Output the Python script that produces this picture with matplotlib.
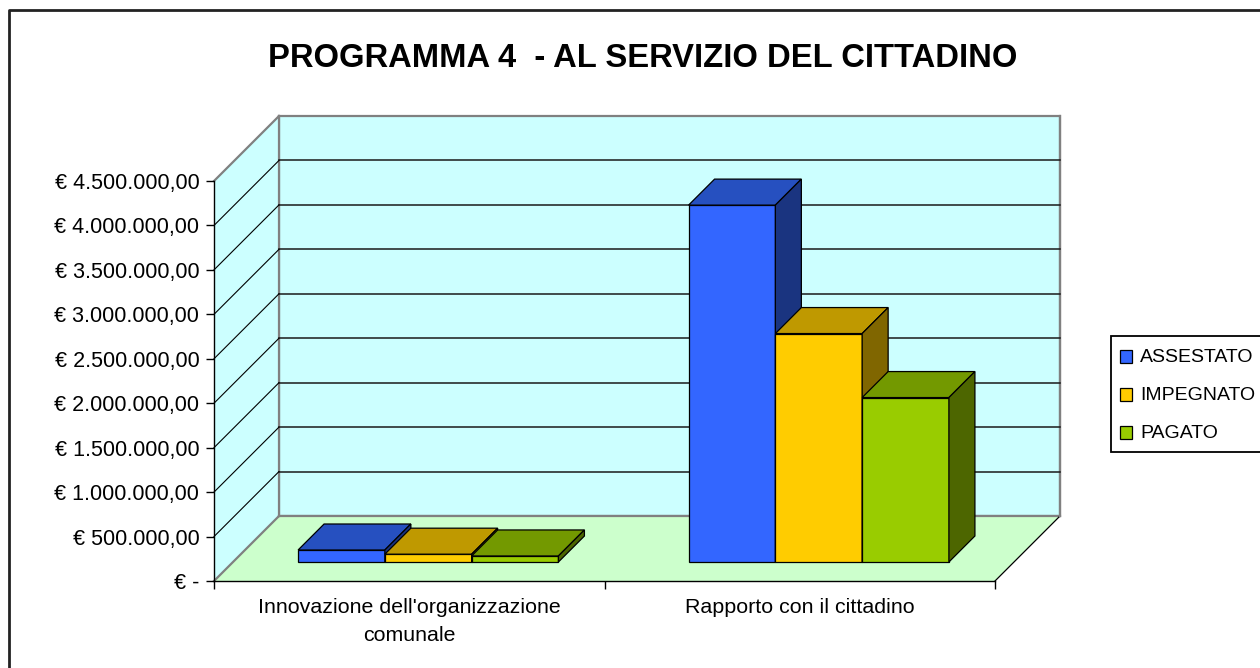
import matplotlib
matplotlib.use('Agg')
import matplotlib.pyplot as plt
from matplotlib.patches import Polygon, Rectangle
from matplotlib.lines import Line2D
from matplotlib.transforms import IdentityTransform

plt.rcParams['font.family'] = ['Liberation Sans', 'DejaVu Sans']

# ---------------- data ----------------
title = "PROGRAMMA 4  - AL SERVIZIO DEL CITTADINO"
categories = ["Innovazione dell'organizzazione\ncomunale", "Rapporto con il cittadino"]
series_names = ["ASSESTATO", "IMPEGNATO", "PAGATO"]
assestato = [135000, 4015000]
impegnato = [88000, 2570000]
pagato = [68000, 1850000]
yticks = [0, 500000, 1000000, 1500000, 2000000, 2500000, 3000000, 3500000, 4000000, 4500000]
ytick_labels = ["€ -", "€ 500.000,00", "€ 1.000.000,00", "€ 1.500.000,00", "€ 2.000.000,00",
                "€ 2.500.000,00", "€ 3.000.000,00", "€ 3.500.000,00", "€ 4.000.000,00",
                "€ 4.500.000,00"]

# ---------------- styles ----------------
front_colors = ["#3366FF", "#FFCC00", "#99CC00"]
top_colors = ["#2650C0", "#BF9900", "#739900"]
side_colors = ["#1A3480", "#806600", "#4D6600"]
wall_color = "#CCFFFF"
floor_color = "#CCFFCC"
edge_gray = "#808080"

W, H = 1260, 668
fig = plt.figure(figsize=(W / 100, H / 100), dpi=100)
fig.patch.set_facecolor('white')

ax_left, ax_right, ax_top, ax_bottom = 214, 995, 181, 581
ax = fig.add_axes([ax_left / W, (H - ax_bottom) / H, (ax_right - ax_left) / W, (ax_bottom - ax_top) / H])
ax.set_xlim(0, len(categories))
ax.set_ylim(0, yticks[-1])
ax.patch.set_alpha(0)

DEPTH = 65          # wall depth in pixels
BAR_D0, BAR_D1 = 19, 45   # bar depth range in pixels
IDT = IdentityTransform()


def P(x, v, d):
    px, py = ax.transData.transform((x, v))
    return (px + d, py + d)


def poly(pts, fc, ec='none', lw=0.0, z=1):
    p = Polygon(pts, closed=True, facecolor=fc, edgecolor=ec, linewidth=lw,
                transform=IDT, clip_on=False, zorder=z, joinstyle='miter')
    ax.add_patch(p)


def line(p0, p1, color, lw, z=1.5):
    l = Line2D([p0[0], p1[0]], [p0[1], p1[1]], color=color, linewidth=lw,
               transform=IDT, clip_on=False, zorder=z)
    ax.add_line(l)


xmax = len(categories)
vmax = yticks[-1]

# back wall
poly([P(0, 0, DEPTH), P(xmax, 0, DEPTH), P(xmax, vmax, DEPTH), P(0, vmax, DEPTH)],
     wall_color, edge_gray, 1.6, z=1)
# side wall
poly([P(0, 0, 0), P(0, vmax, 0), P(0, vmax, DEPTH), P(0, 0, DEPTH)],
     wall_color, 'none', 0, z=1)
line(P(0, vmax, 0), P(0, vmax, DEPTH), edge_gray, 1.6, z=1.2)
line(P(0, 0, DEPTH), P(0, vmax, DEPTH), edge_gray, 1.6, z=1.2)
# floor
poly([P(0, 0, 0), P(xmax, 0, 0), P(xmax, 0, DEPTH), P(0, 0, DEPTH)],
     floor_color, 'none', 0, z=1.1)
line(P(0, 0, 0), P(0, 0, DEPTH), edge_gray, 1.6, z=1.2)
line(P(0, 0, DEPTH), P(xmax, 0, DEPTH), edge_gray, 1.6, z=1.2)
line(P(xmax, 0, 0), P(xmax, 0, DEPTH), '#000000', 0.9, z=1.2)
line(P(xmax, 0, DEPTH), P(xmax, vmax, DEPTH), edge_gray, 1.6, z=1.2)

# gridlines
for v in yticks[1:-1]:
    line(P(0, v, DEPTH), P(xmax, v, DEPTH), '#1a1a1a', 1.1, z=1.3)
    line(P(0, v, 0), P(0, v, DEPTH), '#000000', 0.8, z=1.3)

# bars
series = [assestato, impegnato, pagato]
n = len(series)
bw = 1.0 / (n + 1.5)
for ci in range(len(categories)):
    for si, vals in enumerate(series):
        v = vals[ci]
        x0 = ci + 0.75 * bw + si * bw
        x1 = x0 + bw
        z = 3 + ci * 0.1 + si * 0.01
        # front
        poly([P(x0, 0, BAR_D0), P(x1, 0, BAR_D0), P(x1, v, BAR_D0), P(x0, v, BAR_D0)],
             front_colors[si], '#000000', 0.9, z=z)
        # top
        poly([P(x0, v, BAR_D0), P(x1, v, BAR_D0), P(x1, v, BAR_D1), P(x0, v, BAR_D1)],
             top_colors[si], '#000000', 0.9, z=z)
        # side
        poly([P(x1, 0, BAR_D0), P(x1, 0, BAR_D1), P(x1, v, BAR_D1), P(x1, v, BAR_D0)],
             side_colors[si], '#000000', 0.9, z=z)

# axes / spines
for s in ['top', 'right']:
    ax.spines[s].set_visible(False)
ax.spines['left'].set_color('#000000')
ax.spines['bottom'].set_color('#000000')
ax.spines['left'].set_linewidth(1.0)
ax.spines['bottom'].set_linewidth(1.0)
ax.spines['left'].set_zorder(2)
ax.spines['bottom'].set_zorder(2)

ax.set_yticks(yticks, labels=ytick_labels)
ax.tick_params(axis='y', direction='out', length=6, width=1, color='#000000',
               labelsize=15.5, pad=4.6)
ax.set_xticks(list(range(xmax + 1)), labels=[''] * (xmax + 1))
ax.tick_params(axis='x', which='major', direction='out', length=6, width=1, color='#000000')
ax.set_xticks([i + 0.5 for i in range(xmax)], labels=categories, minor=True)
ax.tick_params(axis='x', which='minor', length=0, labelsize=15.4, pad=12)
for lbl in ax.get_xticklabels(minor=True):
    lbl.set_linespacing(1.62)

# title
fig.text(642.5 / W, (H - 67) / H, title, ha='center', va='baseline',
         fontsize=23.6, fontweight='bold', color='#000000')

# legend (manual)
leg_left, leg_top, leg_bottom = 1111, 336, 452
fig.patches.append(Rectangle((leg_left, H - leg_bottom), 300, leg_bottom - leg_top,
                             facecolor='white', edgecolor='#000000', linewidth=1.3,
                             transform=IDT, figure=fig, zorder=5))
for i, name in enumerate(series_names):
    cy = 356.5 + i * 38
    fig.patches.append(Rectangle((1120, H - cy - 6.5), 11.5, 13,
                                 facecolor=front_colors[i], edgecolor='#000000',
                                 linewidth=0.9, transform=IDT, figure=fig, zorder=6))
    fig.text(1140 / W, (H - cy - 6) / H, name, ha='left', va='baseline',
             fontsize=14, color='#000000', zorder=7)

# chart border
fig.lines.append(Line2D([9, 9, W + 10], [-10, H - 10, H - 10], color='#222222',
                        linewidth=2, transform=IDT, figure=fig))

fig.savefig('out.png', dpi=100)
